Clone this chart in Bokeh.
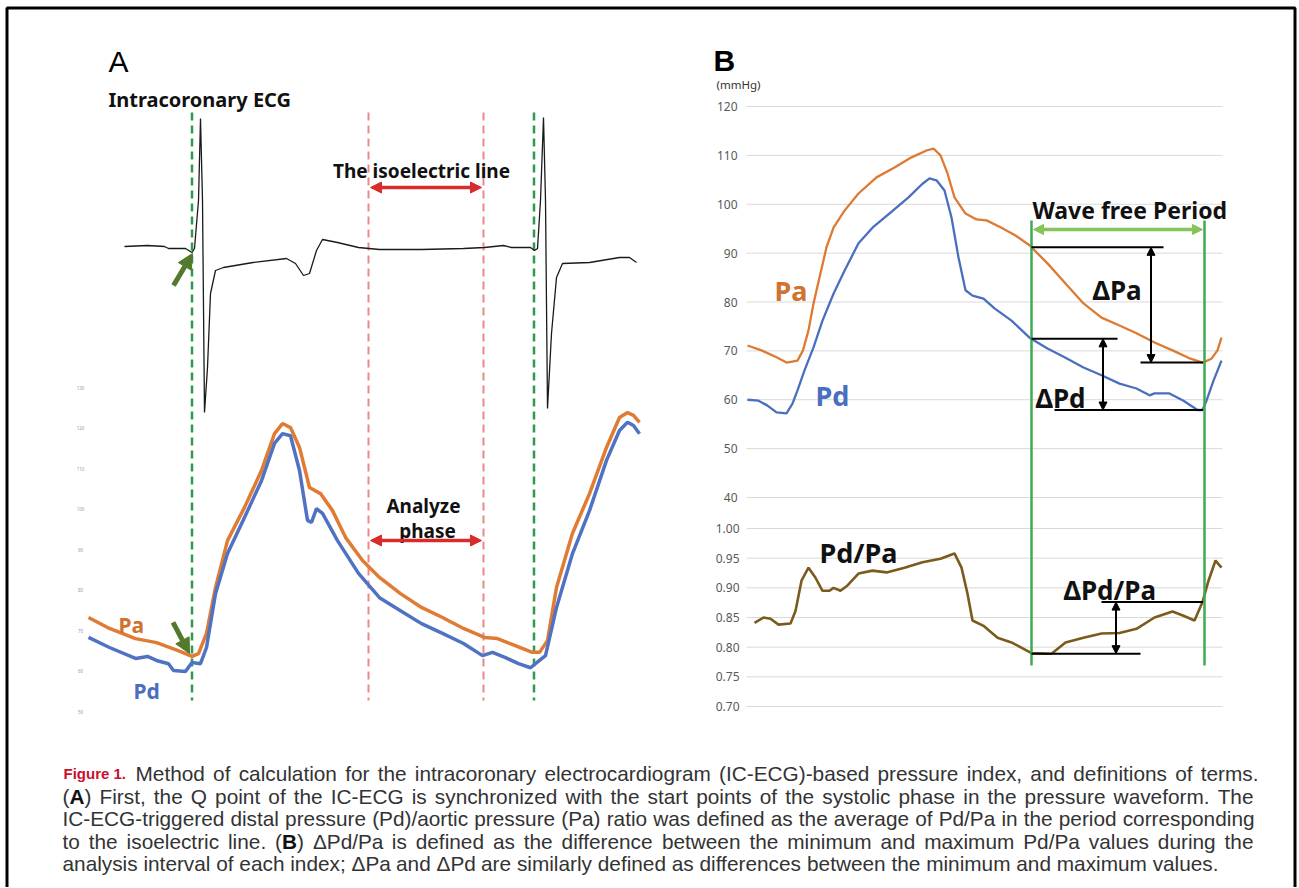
from bokeh.plotting import figure
from bokeh.models import Range1d, Arrow, NormalHead
from bokeh.core.properties import value
from bokeh.embed import file_html
from bokeh.resources import INLINE
import numpy as np

# ---------------- data ----------------
# Panel A : time in ms, pressure in mmHg, ECG in mV
ecg_t = [72, 118, 152, 160, 194, 207, 212, 220, 224, 228, 232, 238, 244, 254, 270, 329, 396, 414, 430, 442,
         456, 468, 498, 540, 582, 666, 750, 792, 830, 846, 884, 892, 898, 904, 910, 914, 918, 926, 936, 948,
         1002, 1062, 1082, 1096]
ecg_mv = [0.02, 0.03, 0.02, 0.00, 0.00, -0.04, 0.00, 0.48, 1.30, 0.48, -1.64, -1.19, -0.45, -0.22, -0.19, -0.14,
          -0.10, -0.15, -0.27, -0.25, -0.02, 0.09, 0.06, 0.01, -0.01, -0.01, 0.00, 0.01, 0.03, 0.01, 0.01, -0.02,
          0.00, 0.48, 1.31, 0.48, -1.60, -0.85, -0.29, -0.15, -0.14, -0.09, -0.09, -0.14]

a_pa_t = [0, 42, 94, 136, 178, 207, 220, 236, 254, 278, 312, 346, 372, 388, 404, 422, 442, 464, 488, 514,
          548, 582, 624, 666, 708, 750, 792, 818, 842, 888, 902, 918, 936, 968, 1002, 1036, 1062, 1078, 1090, 1102]
a_pa = [73.2, 70.5, 68.0, 67.0, 65.1, 63.6, 64.3, 69.3, 80.6, 92.2, 100.4, 109.5, 118.6, 121.1, 120.1, 115.2,
        105.3, 103.8, 99.6, 93.0, 87.3, 83.1, 79.1, 75.7, 73.2, 70.5, 68.3, 68.0, 66.8, 64.6, 64.6, 67.5, 80.6,
        94.0, 103.8, 115.2, 122.6, 123.8, 123.1, 121.4]
a_pd_t = [0, 42, 94, 118, 136, 160, 170, 194, 207, 224, 236, 254, 278, 312, 346, 372, 388, 404, 422, 438,
          446, 456, 468, 498, 540, 582, 624, 666, 708, 750, 788, 808, 834, 860, 884, 902, 914, 936, 968, 1002,
          1036, 1062, 1078, 1090, 1102]
a_pd = [68.3, 65.8, 63.1, 63.6, 62.6, 61.8, 60.1, 59.9, 62.1, 61.8, 65.8, 79.1, 89.0, 97.9, 107.0, 116.2,
        118.6, 118.1, 109.5, 97.2, 96.7, 100.1, 98.9, 92.2, 84.1, 78.1, 74.9, 71.7, 69.3, 66.8, 63.8, 64.6,
        63.3, 61.8, 60.8, 62.6, 63.8, 75.7, 89.0, 99.6, 112.0, 119.4, 121.4, 120.6, 118.6]
a_ticks = [130, 120, 110, 100, 90, 80, 70, 60, 50]
a_q_times = [207, 891]      # Q points (green dashed)
a_iso_times = [560, 790]    # isoelectric line (red dashed)

# Panel B : time in ms, pressure in mmHg, ratio
b_pa_t = [6, 34, 64, 84, 106, 117, 128, 138, 150, 164, 178, 200, 228, 264, 300, 334, 364, 378, 392, 406,
          420, 442, 464, 484, 514, 542, 570, 606, 642, 678, 714, 750, 784, 820, 856, 892, 916, 934, 946, 954]
b_pa = [71.1, 70.1, 68.7, 67.6, 68.0, 70.1, 74.2, 79.7, 85.0, 91.2, 95.2, 98.7, 102.2, 105.5, 107.5, 109.6,
        111.0, 111.4, 110.0, 106.3, 101.4, 98.1, 96.9, 96.7, 95.2, 93.6, 91.6, 87.9, 83.8, 79.7, 76.8, 75.2,
        73.6, 71.7, 70.1, 68.4, 67.6, 68.4, 70.1, 72.7]
b_pd_t = [6, 28, 46, 64, 84, 96, 106, 120, 138, 156, 178, 200, 228, 256, 292, 328, 356, 370, 384, 400,
          414, 428, 442, 456, 478, 500, 534, 570, 606, 642, 678, 714, 750, 784, 810, 820, 850, 878, 906, 916,
          924, 938, 954]
b_pd = [60.0, 59.8, 58.8, 57.4, 57.2, 59.2, 61.9, 66.0, 70.7, 76.2, 81.7, 86.4, 92.0, 95.2, 98.3, 101.4,
        104.2, 105.3, 104.9, 102.8, 97.3, 89.1, 82.4, 81.3, 80.7, 78.7, 76.2, 72.7, 70.5, 68.6, 66.6, 65.0,
        63.3, 62.3, 60.9, 61.3, 61.3, 59.8, 57.9, 57.9, 59.8, 63.9, 68.0]
b_ratio_t = [20, 38, 52, 68, 92, 102, 114, 128, 142, 156, 170, 178, 192, 206, 228, 256, 284, 320, 356, 392,
             420, 434, 446, 456, 478, 506, 534, 574, 614, 642, 678, 714, 750, 784, 820, 856, 878, 900, 916, 928,
             942, 954]
b_ratio = [0.841, 0.850, 0.848, 0.838, 0.840, 0.861, 0.912, 0.934, 0.917, 0.895, 0.895, 0.900, 0.895, 0.904,
           0.924, 0.929, 0.926, 0.934, 0.943, 0.949, 0.958, 0.934, 0.890, 0.845, 0.836, 0.816, 0.808, 0.790,
           0.789, 0.808, 0.816, 0.823, 0.824, 0.831, 0.850, 0.860, 0.853, 0.845, 0.876, 0.912, 0.946, 0.934]
b_mmhg_ticks = [120, 110, 100, 90, 80, 70, 60, 50, 40]
b_ratio_ticks = [1.00, 0.95, 0.90, 0.85, 0.80, 0.75, 0.70]
b_ratio_labels = ["1.00", "0.95", "0.90", "0.85", "0.80", "0.75", "0.70"]
b_wfp = [574, 920]          # wave free period (ms)

caption_lines = [
    "Method of calculation for the intracoronary electrocardiogram (IC-ECG)-based pressure index, and definitions of terms.",
    "(**A**) First, the Q point of the IC-ECG is synchronized with the start points of the systolic phase in the pressure waveform. The",
    "IC-ECG-triggered distal pressure (Pd)/aortic pressure (Pa) ratio was defined as the average of Pd/Pa in the period corresponding",
    "to the isoelectric line. (**B**) \u0394Pd/Pa is defined as the difference between the minimum and maximum Pd/Pa values during the",
    "analysis interval of each index; \u0394Pa and \u0394Pd are similarly defined as differences between the minimum and maximum values.",
]

# ---------------- geometry ----------------
W, H = 1298, 887
PX0, PX1 = 0, W
PY0, PY1 = 0, H


def xr(v0, p0, v1, p1):
    k = (v1 - v0) / (p1 - p0)
    return Range1d(start=v0 + (PX0 - p0) * k, end=v0 + (PX1 - p0) * k)


def yr(v0, p0, v1, p1):
    k = (v1 - v0) / (p1 - p0)
    return Range1d(start=v0 + (PY1 - p0) * k, end=v0 + (PY0 - p0) * k)


p = figure(width=W, height=H, x_range=Range1d(PX0, PX1), y_range=Range1d(PY1, PY0),
           output_backend="svg", toolbar_location=None, x_axis_location=None, y_axis_location=None,
           min_border=0, background_fill_color="white", border_fill_color="white")
p.grid.visible = False
p.outline_line_color = None

p.extra_x_ranges = {"tA": xr(0, 88, 2, 89), "tB": xr(0, 744, 2, 745)}
p.extra_y_ranges = {"mmA": yr(130, 387, 50, 711), "ecg": yr(0, 248, 1, 148),
                    "mmB": yr(120, 106, 40, 497), "rB": yr(1.0, 528, 0.70, 706)}

LBL = value("Noto Sans")
CAP = value("Liberation Sans")
PA_COL, PD_COL = "#dd7a34", "#4a6fbf"
RATIO_COL = "#7a5b1c"

# outer frame
p.line([6.5, 6.5, 1294.5, 1294.5], [900, 7.5, 7.5, 900], line_color="black", line_width=3)

# ---------------- Panel A ----------------
p.text(x=[108], y=[61], text=["A"], text_font=value("Liberation Sans"), text_font_size="30px",
       text_color="black", text_baseline="alphabetic")
p.text(x=[108], y=[99], text=["Intracoronary ECG"], text_font=LBL, text_font_size="20px",
       text_font_style="bold", text_color="#111111", text_baseline="alphabetic")

# tiny pressure tick labels
p.text(x=[80] * len(a_ticks), y=a_ticks, text=[str(v) for v in a_ticks], y_range_name="mmA",
       text_font=LBL, text_font_size="4.5px", text_color="#999999", text_align="center",
       text_baseline="middle")

# dashed markers
p.segment(x0=a_q_times, x1=a_q_times, y0=112, y1=700, x_range_name="tA",
          line_color="#2f9a4f", line_width=2.5, line_dash="8 5")
p.segment(x0=a_iso_times, x1=a_iso_times, y0=112, y1=700, x_range_name="tA",
          line_color="#ee8888", line_width=2, line_dash="8 5")

# ECG
p.line(ecg_t, ecg_mv, x_range_name="tA", y_range_name="ecg", line_color="#1a1a1a", line_width=1.3)
# pressures
p.line(a_pa_t, a_pa, x_range_name="tA", y_range_name="mmA", line_color="#e07b34", line_width=3.5)
p.line(a_pd_t, a_pd, x_range_name="tA", y_range_name="mmA", line_color="#4f72c2", line_width=3.5)

for yy in (187, 540):
    p.add_layout(Arrow(start=NormalHead(size=11, fill_color="#d82c2c", line_color="#d82c2c"),
                       end=NormalHead(size=11, fill_color="#d82c2c", line_color="#d82c2c"),
                       x_start=a_iso_times[0] + 4, x_end=a_iso_times[1] - 4, y_start=yy, y_end=yy,
                       x_range_name="tA", line_color="#d82c2c", line_width=3.5))

p.text(x=[421], y=[170], text=["The isoelectric line"], text_font=LBL, text_font_size="19px",
       text_font_style="bold", text_color="#111111", text_align="center", text_baseline="alphabetic")
p.text(x=[423, 427], y=[505, 530], text=["Analyze", "phase"], text_font=LBL, text_font_size="19px",
       text_font_style="bold", text_color="#111111", text_align="center", text_baseline="alphabetic")

# olive arrows pointing to Q points
p.add_layout(Arrow(end=NormalHead(size=15, fill_color="#52792c", line_color="#52792c"),
                   x_start=170, y_start=-0.37, x_end=208, y_end=-0.05,
                   x_range_name="tA", y_range_name="ecg", line_color="#52792c", line_width=5))
p.add_layout(Arrow(end=NormalHead(size=15, fill_color="#52792c", line_color="#52792c"),
                   x_start=169, y_start=72.0, x_end=202, y_end=64.3,
                   x_range_name="tA", y_range_name="mmA", line_color="#52792c", line_width=5))

p.text(x=[118], y=[624], text=["Pa"], text_font=LBL, text_font_size="21px", text_font_style="bold",
       text_color="#cf7232", text_baseline="alphabetic")
p.text(x=[133], y=[690], text=["Pd"], text_font=LBL, text_font_size="21px", text_font_style="bold",
       text_color="#4a6fbf", text_baseline="alphabetic")

# ---------------- Panel B ----------------
p.text(x=[713], y=[60], text=["B"], text_font=value("Liberation Sans"), text_font_size="30px",
       text_font_style="bold", text_color="black", text_baseline="alphabetic")
p.text(x=[716], y=[84], text=["(mmHg)"], text_font=LBL, text_font_size="11.5px",
       text_color="#333333", text_baseline="alphabetic")

g0, g1 = 4, 956
p.segment(x0=g0, x1=g1, y0=b_mmhg_ticks, y1=b_mmhg_ticks, x_range_name="tB", y_range_name="mmB",
          line_color="#d9d9d9", line_width=1)
p.segment(x0=g0, x1=g1, y0=b_ratio_ticks, y1=b_ratio_ticks, x_range_name="tB", y_range_name="rB",
          line_color="#d9d9d9", line_width=1)
p.text(x=[737] * len(b_mmhg_ticks), y=b_mmhg_ticks, text=[str(v) for v in b_mmhg_ticks],
       y_range_name="mmB", text_font=LBL, text_font_size="12px", text_color="#595959",
       text_align="right", text_baseline="middle")
p.text(x=[739] * len(b_ratio_ticks), y=b_ratio_ticks, text=b_ratio_labels,
       y_range_name="rB", text_font=LBL, text_font_size="12px", text_color="#595959",
       text_align="right", text_baseline="middle")

p.line(b_pa_t, b_pa, x_range_name="tB", y_range_name="mmB", line_color=PA_COL, line_width=2.3)
p.line(b_pd_t, b_pd, x_range_name="tB", y_range_name="mmB", line_color=PD_COL, line_width=2.3)
p.line(b_ratio_t, b_ratio, x_range_name="tB", y_range_name="rB", line_color=RATIO_COL, line_width=2.6)

# wave free period
p.segment(x0=b_wfp, x1=b_wfp, y0=220, y1=665, x_range_name="tB", line_color="#3faa55", line_width=2.5)
p.add_layout(Arrow(start=NormalHead(size=10, fill_color="#84c45a", line_color="#84c45a"),
                   end=NormalHead(size=10, fill_color="#84c45a", line_color="#84c45a"),
                   x_start=b_wfp[0] + 4, x_end=b_wfp[1] - 4, y_start=229, y_end=229,
                   x_range_name="tB", line_color="#84c45a", line_width=3.5))
p.text(x=[1032], y=[209], text=["Wave free Period"], text_font=LBL, text_font_size="23px",
       text_font_style="bold", text_color="#111111", text_baseline="alphabetic")


def in_wfp(t, v):
    t = np.asarray(t, float)
    v = np.asarray(v, float)
    m = (t >= b_wfp[0]) & (t <= b_wfp[1])
    return float(np.interp(b_wfp[0], t, v)), float(v[m].min()), float(v[m].max())


pa_start, pa_min, _ = in_wfp(b_pa_t, b_pa)
pd_start, pd_min, _ = in_wfp(b_pd_t, b_pd)
_, r_min, r_max = in_wfp(b_ratio_t, b_ratio)


def delta(x0a, x1a, ya, x0b, x1b, yb, xa, yname):
    p.segment(x0=[x0a, x0b], x1=[x1a, x1b], y0=[ya, yb], y1=[ya, yb], x_range_name="tB",
              y_range_name=yname, line_color="black", line_width=2)
    p.add_layout(Arrow(start=NormalHead(size=8, fill_color="black", line_color="black"),
                       end=NormalHead(size=8, fill_color="black", line_color="black"),
                       x_start=xa, x_end=xa, y_start=ya, y_end=yb, x_range_name="tB",
                       y_range_name=yname, line_color="black", line_width=2))


delta(b_wfp[0], 838, pa_start, 792, b_wfp[1] - 3, pa_min, 813, "mmB")
delta(b_wfp[0], 746, pd_start, 620, b_wfp[1] - 3, pd_min, 717, "mmB")
delta(714, b_wfp[1] - 3, r_max, b_wfp[0], 792, r_min, 743, "rB")

p.text(x=[774], y=[290], text=["Pa"], text_font=LBL, text_font_size="27px", text_font_style="bold",
       text_color="#cf7232", text_baseline="alphabetic")
p.text(x=[815], y=[395], text=["Pd"], text_font=LBL, text_font_size="27px", text_font_style="bold",
       text_color="#4a6fbf", text_baseline="alphabetic")
p.text(x=[1092, 1035, 1063], y=[289, 397, 589], text=["\u0394Pa", "\u0394Pd", "\u0394Pd/Pa"],
       text_font=LBL, text_font_size="26px", text_font_style="bold", text_color="#111111",
       text_baseline="alphabetic")
p.text(x=[819], y=[552], text=["Pd/Pa"], text_font=LBL, text_font_size="27px", text_font_style="bold",
       text_color="#111111", text_baseline="alphabetic")

# ---------------- caption ----------------
REG = {' ': 278, '(': 333, ')': 333, ',': 278, '-': 333, '.': 278, '/': 278, ';': 278, '\u0394': 640,
       'A': 667, 'B': 667, 'C': 722, 'D': 722, 'E': 667, 'F': 611, 'G': 778, 'I': 278, 'M': 833, 'P': 667,
       'Q': 778, 'T': 611,
       'a': 556, 'b': 556, 'c': 500, 'd': 556, 'e': 556, 'f': 278, 'g': 556, 'h': 556, 'i': 222, 'j': 222,
       'k': 500, 'l': 222, 'm': 833, 'n': 556, 'o': 556, 'p': 556, 'q': 556, 'r': 333, 's': 500, 't': 278,
       'u': 556, 'v': 500, 'w': 722, 'x': 500, 'y': 500, 'z': 500}
BOLD = {'A': 722, 'B': 722}


def wem(s, bold=False):
    return sum((BOLD.get(c, REG.get(c, 556)) if bold else REG.get(c, 556)) for c in s) / 1000.0


CAP_FS = 20.8
cap_bounds = [(135, 1258), (62, 1253), (62, 1254), (62, 1253), (62, None)]
cap_base = [773, 795.5, 818, 840.5, 863]
rx, ry, rt, bx, by, bt = [], [], [], [], [], []
for line, (x0, x1), yb in zip(caption_lines, cap_bounds, cap_base):
    words = line.split(" ")
    wr = []
    for w in words:
        parts = w.split("**")
        wr.append([(s, i % 2 == 1) for i, s in enumerate(parts) if s])
    widths = [sum(wem(s, b) for s, b in runs) * CAP_FS for runs in wr]
    space = 0.278 * CAP_FS
    if x1 is None:
        gap = space
    else:
        gap = max((x1 - x0 - sum(widths)) / (len(words) - 1), 0.15 * CAP_FS)
    x = x0
    for runs, wd in zip(wr, widths):
        xx = x
        for s, b in runs:
            if b:
                bx.append(xx); by.append(yb); bt.append(s)
            else:
                rx.append(xx); ry.append(yb); rt.append(s)
            xx += wem(s, b) * CAP_FS
        x += wd + gap

p.text(x=rx, y=ry, text=rt, text_font=CAP, text_font_size=f"{CAP_FS}px", text_color="#333333",
       text_baseline="alphabetic")
p.text(x=bx, y=by, text=bt, text_font=CAP, text_font_size=f"{CAP_FS}px", text_font_style="bold",
       text_color="#111111", text_baseline="alphabetic")
p.text(x=[63], y=[773], text=["Figure 1."], text_font=CAP, text_font_size="15px",
       text_font_style="bold", text_color="#c8102e", text_baseline="alphabetic")

open("out.html", "w").write(file_html(p, INLINE))
